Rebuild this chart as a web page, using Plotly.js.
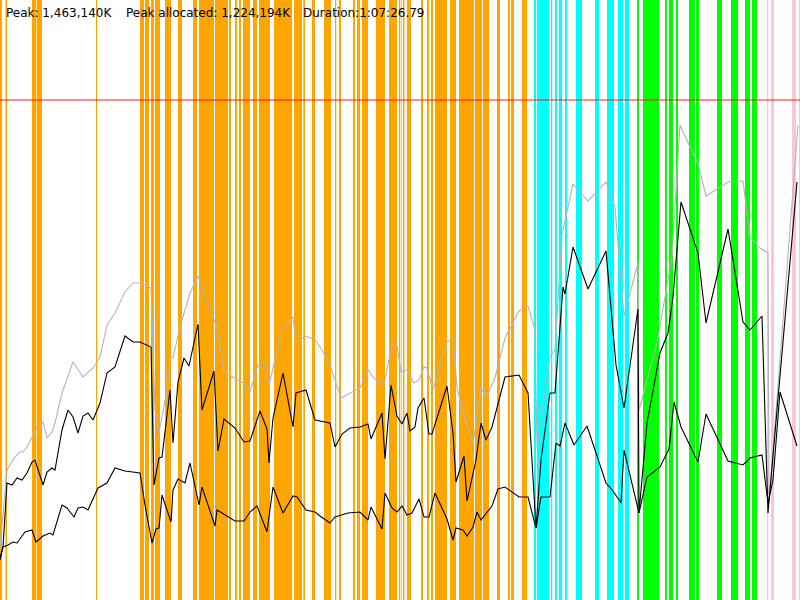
<!DOCTYPE html>
<html>
<head>
<meta charset="utf-8">
<script src="https://cdn.plot.ly/plotly-3.0.1.min.js"></script>
<style>html,body{margin:0;padding:0;background:#fff;}#chart{width:800px;height:600px;}</style>
</head>
<body>
<div id="chart"></div>
<script>
// Time axis in screen-time units (0..800 spans the 1:07:26.79 run), memory in scaled heap units (0..600)
const grayT = [0,7,10,15,20,23,27,32,37,43,47,52,55,62,68,73,83,93,100,107,115,125,133,140,151,155,159,167,170,173,180,190,198,217,224,243,250,258,266,269,283,293,296,306,315,320,329,341,352,360,368,372,381,385,392,397,401,407,414,419,424,427,433,447,453,457,466,473,481,486,495,505,519,528,535,537,550,555,562,573,588,606,615,624,638,639,640,657,672,680,690,698,706,728,743,750,760,768,769,798];
const peakHeap = [52,130,135,143,148,148,153,163,173,178,162,168,177,207,225,238,223,232,243,275,287,308,317,317,312,190,167,210,242,242,273,307,324,272,228,217,208,235,237,215,273,283,258,264,260,253,238,202,208,212,231,224,215,220,256,254,228,230,217,220,233,232,210,258,262,212,178,156,213,202,222,262,289,294,270,152,243,250,365,416,399,418,393,284,337,190,193,257,343,475,453,437,404,418,419,363,352,347,97,475];

const upperT = [0,3,7,12,17,22,27,32,35,43,47,52,55,62,68,73,78,83,88,93,100,107,115,125,133,140,151,154,159,162,170,173,178,184,189,198,202,214,218,224,235,244,250,260,267,269,273,283,293,296,306,315,330,335,342,350,360,368,371,382,385,391,397,402,407,410,415,418,424,429,432,447,453,456,464,467,476,481,486,492,505,519,528,536,541,550,555,563,565,573,588,606,616,624,638,639,647,660,668,673,681,698,706,728,743,750,762,768,797];
const usedHeap = [40,53,117,115,122,120,127,138,140,115,128,132,130,170,190,183,167,184,187,180,197,227,233,264,258,258,253,115,142,143,210,157,218,242,234,276,190,229,149,181,172,158,159,189,171,137,182,227,173,207,210,180,177,153,166,172,173,176,161,187,141,215,184,176,187,169,173,192,202,166,166,214,167,118,144,99,140,177,160,173,223,225,207,72,140,207,207,313,306,353,311,349,235,192,291,87,177,247,267,303,398,347,277,371,278,270,284,87,418];

const lowerT = [0,3,8,13,17,25,32,36,43,50,53,62,67,74,78,83,88,98,107,115,125,140,145,152,156,159,162,171,173,178,185,190,199,202,215,217,235,244,250,257,267,273,283,293,297,306,315,320,330,335,348,360,368,371,382,385,392,397,402,407,412,419,424,429,435,447,453,456,463,467,473,477,481,492,498,505,519,528,536,541,550,556,560,565,574,587,606,613,621,624,639,647,660,669,674,681,698,706,728,743,750,762,768,773,780,797];
const liveHeap = [42,53,55,58,57,68,70,58,64,67,65,95,92,83,92,93,90,112,117,132,129,127,95,57,71,72,105,78,110,121,117,137,95,113,74,90,79,79,88,94,68,113,87,104,103,90,88,84,77,83,87,88,80,93,71,107,92,88,94,85,87,101,83,83,107,81,60,72,70,64,73,88,80,94,111,113,103,103,72,103,103,157,154,177,155,174,117,109,97,150,87,123,133,151,198,173,138,186,139,135,142,145,97,120,208,154];

const heapLimit = 500;

// event bands [start, end] per category
const orangeEvents = [[0,2],[5.5,7],[32,36],[36.6,42],[96,97.2],[140,144],[145,149],[151,154],[155,160],[165,171],[178,182],[193,197],[199,214],[215,228],[229,231],[235,237],[239,241],[243,250],[253,257],[259,270],[274,292],[294,302],[303.3,305],[312,315],[324,331],[335,336.3],[339,341],[353,355],[357,360],[362,368],[376,385],[389,397],[399,400],[400.7,401.6],[403,404.5],[407,411],[421,423],[427,429],[431,433],[435,447],[450,456],[459,474],[475,482],[483,489],[497,500],[508,510],[511,514],[522,527]];
const cyanEvents = [[534,536],[537,549],[551,552.3],[555,557],[559,562],[565,567],[576,582],[595,599],[607,614],[618,623],[625,629]];
const greenEvents = [[637,639],[643,659],[665,667],[669,673],[676,678],[689,695],[696,699],[717,722],[731,738],[745,750],[752,757]];
const pinkEvents = [[767,768.3],[771,774],[792,796],[799,800]];

const eventGroups = [
  {spans: orangeEvents, color: '#ffa500'},
  {spans: cyanEvents, color: '#00ffff'},
  {spans: greenEvents, color: '#00ff00'},
  {spans: pinkEvents, color: '#ffc4cc'}
];

const shapes = [];
eventGroups.forEach(g => {
  g.spans.forEach(s => {
    shapes.push({type:'rect', xref:'x', yref:'y', x0:s[0], x1:s[1], y0:0, y1:600,
      fillcolor:g.color, line:{width:0}, layer:'below'});
  });
});
shapes.push({type:'line', xref:'x', yref:'y', x0:0, x1:800, y0:heapLimit, y1:heapLimit,
  line:{color:'rgba(255,0,0,0.6)', width:1.6}, layer:'above'});

const traces = [
  {x: grayT, y: peakHeap, type:'scatter', mode:'lines', line:{color:'#b4b4b4', width:1.1}, hoverinfo:'skip'},
  {x: upperT, y: usedHeap, type:'scatter', mode:'lines', line:{color:'#000000', width:1.1}, hoverinfo:'skip'},
  {x: lowerT, y: liveHeap, type:'scatter', mode:'lines', line:{color:'#000000', width:1.1}, hoverinfo:'skip'}
];

const titleFont = {family:'DejaVu Sans, Verdana, sans-serif', size:12, color:'#000'};
const labels = [
  {text:'Peak: 1,463,140K', px:5},
  {text:'Peak allocated: 1,224,194K', px:125},
  {text:'Duration:1:07:26.79', px:302}
];
const annotations = labels.map(l => ({
  text:l.text, xref:'x', yref:'paper', x:l.px, y:1, xanchor:'left', yanchor:'top',
  showarrow:false, font:titleFont, yshift:-4, xshift:-1
}));

const layout = {
  width:800, height:600,
  margin:{l:0,r:0,t:0,b:0,pad:0},
  paper_bgcolor:'#ffffff', plot_bgcolor:'#ffffff',
  showlegend:false,
  xaxis:{range:[0,800], showgrid:false, zeroline:false, showticklabels:false, ticks:'', showline:false, fixedrange:true},
  yaxis:{range:[0,600], showgrid:false, zeroline:false, showticklabels:false, ticks:'', showline:false, fixedrange:true},
  shapes: shapes,
  annotations: annotations
};

Plotly.newPlot('chart', traces, layout, {displayModeBar:false, staticPlot:true});
</script>
</body>
</html>
